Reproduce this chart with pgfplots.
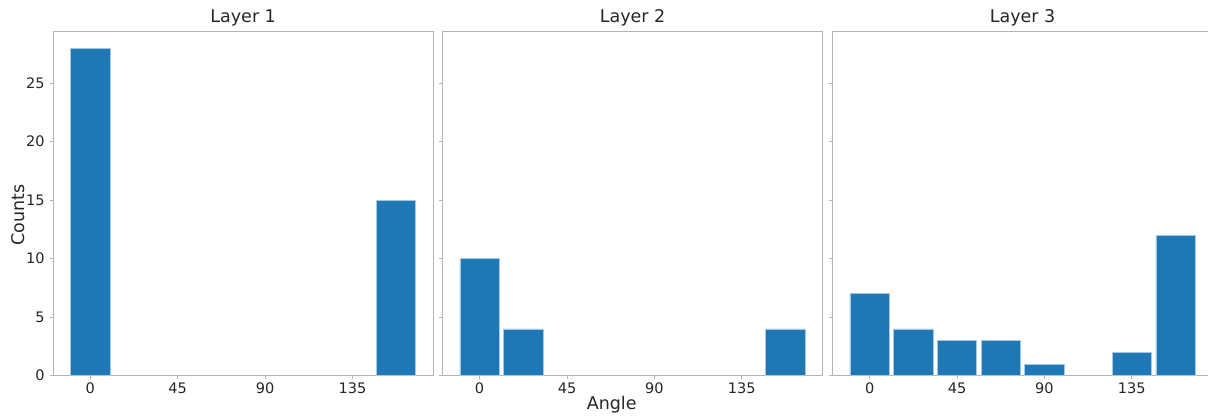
\documentclass[border=0pt]{standalone}
\usepackage{pgfplots}
\pgfplotsset{compat=1.18}
\usepackage{fontspec}
\setmainfont{DejaVu Sans}
\definecolor{barblue}{RGB}{31,119,180}
\definecolor{baredge}{RGB}{165,200,228}
\definecolor{spine}{RGB}{180,180,180}
\definecolor{txt}{RGB}{38,38,38}
\pgfplotsset{
  panel/.style={
    scale only axis, width=379.7bp, height=344bp, anchor=south west,
    xmin=-19, xmax=176.5, ymin=0, ymax=29.4,
    xtick={0,45,90,135}, ytick={0,5,10,15,20,25},
    axis line style={spine, line width=0.9bp},
    tick style={spine, line width=0.8bp},
    tick align=outside, major tick length=3.5bp,
    xtick pos=bottom, ytick pos=left,
    /pgf/number format/assume math mode=true,
    ticklabel style={font=\fontsize{14.5bp}{16bp}\selectfont, text=txt},
    xticklabel style={anchor=base, yshift=-14.5bp, inner sep=0pt},
    yticklabel style={anchor=east, xshift=-5bp, inner sep=0pt},
    title style={at={(0.5,1)}, anchor=base, yshift=3.5bp, inner sep=0pt,
      font=\fontsize{17.5bp}{20bp}\selectfont, text=txt},
    ybar, bar width=20.25, bar shift=0pt,
    clip=false,
  },
  hbar/.style={fill=barblue, draw=baredge, line width=0.7bp},
}
\begin{document}
\begin{tikzpicture}[x=1bp,y=1bp]
\useasboundingbox (0,0) rectangle (1208,416);
\begin{axis}[panel, at={(53.3bp,40.3bp)}, title={Layer 1}]
\addplot[hbar] coordinates {(0,28) (157.5,15)};
\end{axis}
\begin{axis}[panel, at={(442.7bp,40.3bp)}, title={Layer 2}, yticklabels={}]
\addplot[hbar] coordinates {(0,10) (22.5,4) (157.5,4)};
\end{axis}
\begin{axis}[panel, at={(832.7bp,40.3bp)}, title={Layer 3}, yticklabels={}]
\addplot[hbar] coordinates {(0,7) (22.5,4) (45,3) (67.5,3) (90,1) (135,2) (157.5,12)};
\end{axis}
\node[rotate=90, anchor=base, inner sep=0pt, text=txt, font=\fontsize{17.5bp}{20bp}\selectfont] at (24.3,201) {Counts};
\node[anchor=base, inner sep=0pt, text=txt, font=\fontsize{17.5bp}{20bp}\selectfont] at (611.7,6.7) {Angle};
\end{tikzpicture}
\end{document}
